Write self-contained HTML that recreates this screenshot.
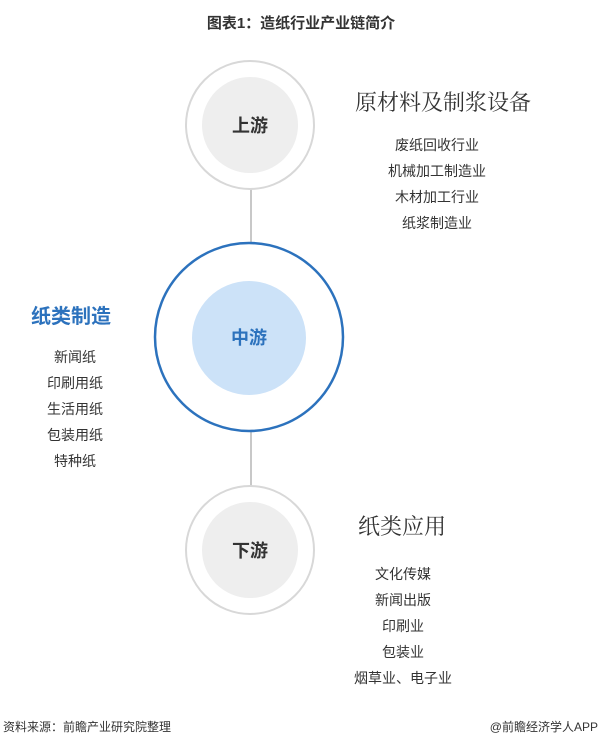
<!DOCTYPE html>
<html><head><meta charset="utf-8"><style>
body{margin:0;background:#fff;}
.t{position:absolute;font-family:"Liberation Sans","Noto Sans CJK SC",sans-serif;color:#333;white-space:nowrap;}
.c{transform:translateX(-50%);}
.s{font-family:"Liberation Serif","Noto Serif CJK SC",serif;}
</style></head><body>
<div style="position:relative;width:602px;height:737px;overflow:hidden;">
<svg width="602" height="737" style="position:absolute;left:0;top:0">
<line x1="251" y1="189" x2="251" y2="243" stroke="#c8c8c8" stroke-width="2"/>
<line x1="251" y1="431" x2="251" y2="486" stroke="#c8c8c8" stroke-width="2"/>
<circle cx="250" cy="125" r="64" fill="#fff" stroke="#d8d8d8" stroke-width="2"/>
<circle cx="250" cy="125" r="48" fill="#eeeeee"/>
<circle cx="249" cy="337" r="94" fill="#fff" stroke="#2c72bd" stroke-width="2.5"/>
<circle cx="249" cy="338" r="57" fill="#cce2f8"/>
<circle cx="250" cy="550" r="64" fill="#fff" stroke="#d8d8d8" stroke-width="2"/>
<circle cx="250" cy="550" r="48" fill="#eeeeee"/>
</svg>
<div class="t c" style="left:301px;top:12px;font-size:15px;font-weight:bold;">图表1：造纸行业产业链简介</div>
<div class="t c" style="left:250px;top:112px;font-size:18px;font-weight:bold;">上游</div>
<div class="t c" style="left:249px;top:324px;font-size:18px;font-weight:bold;color:#2c72bd;">中游</div>
<div class="t c" style="left:250px;top:537px;font-size:18px;font-weight:bold;">下游</div>
<div class="t s" style="left:355px;top:86px;font-size:22px;">原材料及制浆设备</div>
<div class="t c" style="left:437px;top:132px;font-size:14px;line-height:26px;text-align:center;">废纸回收行业<br>机械加工制造业<br>木材加工行业<br>纸浆制造业</div>
<div class="t" style="left:31px;top:300px;font-size:20px;font-weight:bold;color:#2c72bd;">纸类制造</div>
<div class="t c" style="left:75px;top:344px;font-size:14px;line-height:26px;text-align:center;">新闻纸<br>印刷用纸<br>生活用纸<br>包装用纸<br>特种纸</div>
<div class="t s" style="left:358px;top:510px;font-size:22px;">纸类应用</div>
<div class="t c" style="left:403px;top:561px;font-size:14px;line-height:26px;text-align:center;">文化传媒<br>新闻出版<br>印刷业<br>包装业<br>烟草业、电子业</div>
<div class="t" style="left:3px;top:718px;font-size:12px;">资料来源：前瞻产业研究院整理</div>
<div class="t" style="right:4px;top:718px;font-size:12px;">@前瞻经济学人APP</div>
</div>
</body></html>
